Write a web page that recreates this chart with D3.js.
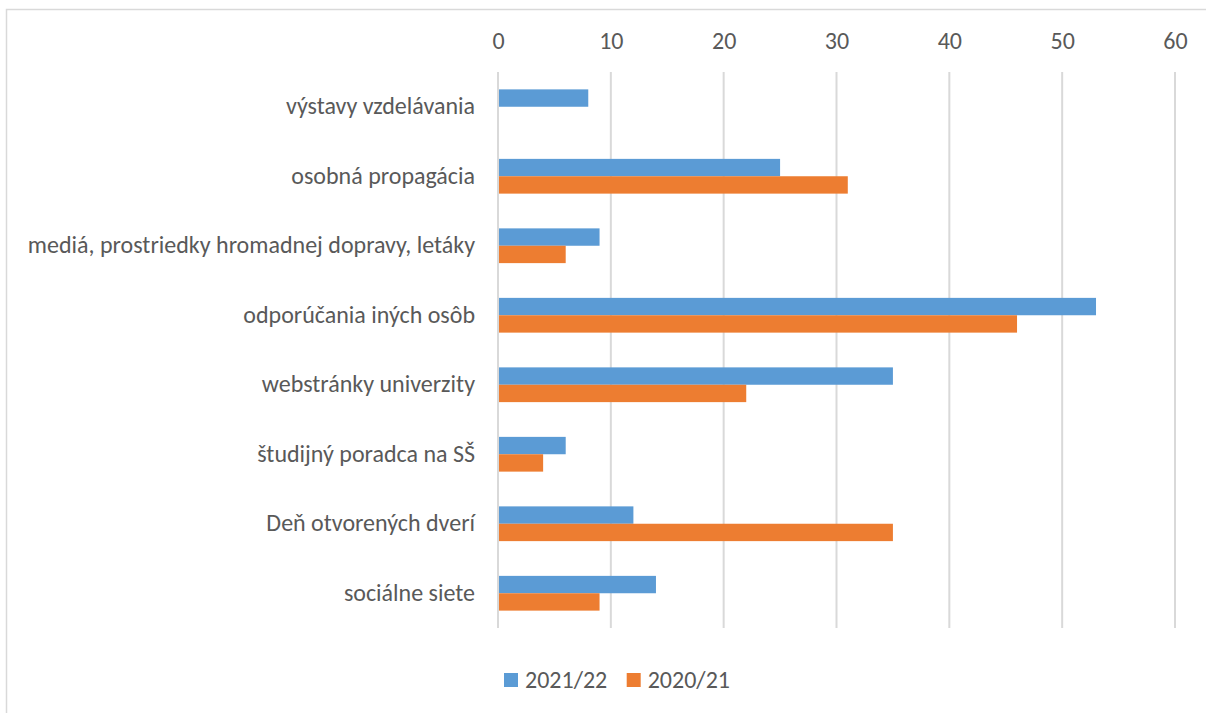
<!DOCTYPE html>
<html>
<head>
<meta charset="utf-8">
<script src="https://cdn.jsdelivr.net/npm/d3@7"></script>
<style>
  html, body { margin: 0; padding: 0; background: #fff; }
  svg { display: block; }
  text { font-family: Carlito, Lato, "Open Sans", sans-serif; fill: #595959; }
</style>
</head>
<body>
<svg id="chart" width="1206" height="713"></svg>
<script>
const categories = [
  "výstavy vzdelávania",
  "osobná propagácia",
  "mediá, prostriedky hromadnej dopravy, letáky",
  "odporúčania iných osôb",
  "webstránky univerzity",
  "študijný poradca na SŠ",
  "Deň otvorených dverí",
  "sociálne siete"
];
const seriesNames = ["2021/22", "2020/21"];
const values2122 = [8, 25, 9, 53, 35, 6, 12, 14];
const values2021 = [0, 31, 6, 46, 22, 4, 35, 9];
const tickValues = [0, 10, 20, 30, 40, 50, 60];
const colors = ["#5b9bd5", "#ed7d31"];

const svg = d3.select("#chart");
const fontSize = 24;
const FONT = "Carlito, Lato, 'Open Sans', sans-serif";

// outer frame
svg.append("rect")
  .attr("x", 6.5).attr("y", 9.5)
  .attr("width", 1210).attr("height", 710)
  .attr("fill", "#fff").attr("stroke", "#d9d9d9").attr("stroke-width", 1.5);

const plotLeft = 498, plotRight = 1175, plotTop = 72, plotBottom = 628;

const x = d3.scaleLinear().domain([0, 60]).range([plotLeft, plotRight]);
const y = d3.scaleBand().domain(categories).range([plotTop, plotBottom]).paddingInner(0.5).paddingOuter(0.25);
const ySub = d3.scaleBand().domain(seriesNames).range([0, y.bandwidth()]);

// gridlines
svg.append("g").selectAll("line").data(tickValues).join("line")
  .attr("x1", d => x(d)).attr("x2", d => x(d))
  .attr("y1", plotTop).attr("y2", plotBottom)
  .attr("stroke", "#d9d9d9").attr("stroke-width", 2);

// top axis labels
const axis = d3.axisTop(x).tickValues(tickValues).tickSize(0).tickPadding(0);
const ga = svg.append("g").attr("transform", `translate(0, 49)`).call(axis);
ga.select(".domain").remove();
ga.selectAll("text").style("font-size", fontSize + "px").attr("fill", "#595959")
  .style("font-family", FONT);

// category labels
const yAxis = d3.axisLeft(y).tickSize(0).tickPadding(23);
const gy = svg.append("g").attr("transform", `translate(${plotLeft}, 0)`).call(yAxis);
gy.select(".domain").remove();
gy.selectAll("text").style("font-size", fontSize + "px").attr("fill", "#595959")
  .style("font-family", FONT);

// bars
const data = categories.map((c, i) => ({ cat: c, vals: [values2122[i], values2021[i]] }));
const groups = svg.append("g").selectAll("g").data(data).join("g")
  .attr("transform", d => `translate(0, ${y(d.cat)})`);
groups.selectAll("rect").data(d => d.vals.map((v, j) => ({ v, s: seriesNames[j], j })))
  .join("rect")
  .attr("x", x(0) + 1)
  .attr("y", d => ySub(d.s))
  .attr("width", d => Math.max(0, x(d.v) - x(0) - 1))
  .attr("height", ySub.bandwidth())
  .attr("fill", d => colors[d.j]);

// legend
const legend = svg.append("g").attr("transform", "translate(504, 680)");
const items = legend.selectAll("g").data(seriesNames).join("g")
  .attr("transform", (d, i) => `translate(${i * 122.7}, 0)`);
items.append("rect").attr("x", 0).attr("y", -7).attr("width", 14).attr("height", 14)
  .attr("fill", (d, i) => colors[i]);
items.append("text").attr("x", 21).attr("y", 0).attr("dy", "0.35em")
  .style("font-size", fontSize + "px").style("font-family", FONT).text(d => d);
</script>
</body>
</html>
